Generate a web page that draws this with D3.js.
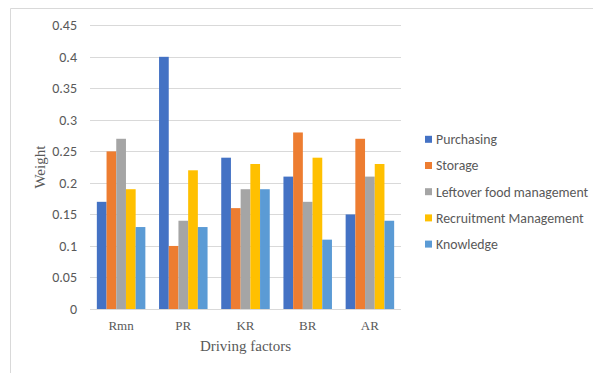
<!DOCTYPE html>
<html>
<head>
<meta charset="utf-8">
<script src="https://cdn.jsdelivr.net/npm/d3@7"></script>
<style>
  body { margin: 0; background: #fff; }
  svg { display: block; }
</style>
</head>
<body>
<div id="chart"></div>
<script>
const categories = ['Rmn', 'PR', 'KR', 'BR', 'AR'];
const seriesNames = ['Purchasing', 'Storage', 'Leftover food management', 'Recruitment Management', 'Knowledge'];
const purchasing = [0.17, 0.40, 0.24, 0.21, 0.15];
const storage = [0.25, 0.10, 0.16, 0.28, 0.27];
const leftover = [0.27, 0.14, 0.19, 0.17, 0.21];
const recruitment = [0.19, 0.22, 0.23, 0.24, 0.23];
const knowledge = [0.13, 0.13, 0.19, 0.11, 0.14];
const yTicks = [0, 0.05, 0.1, 0.15, 0.2, 0.25, 0.3, 0.35, 0.4, 0.45];
const colors = ['#4472C4', '#ED7D31', '#A5A5A5', '#FFC000', '#5B9BD5'];

const series = [purchasing, storage, leftover, recruitment, knowledge];
const width = 593, height = 373;
const plot = { left: 90, right: 401, top: 25.3, bottom: 309 };

const svg = d3.select('#chart').append('svg')
  .attr('width', width)
  .attr('height', height);

// chart frame (only top and left edges show in the picture)
svg.append('line').attr('x1', 10.5).attr('x2', width).attr('y1', 8.5).attr('y2', 8.5)
  .attr('stroke', '#d9d9d9');
svg.append('line').attr('x1', 10.5).attr('x2', 10.5).attr('y1', 8.5).attr('y2', height)
  .attr('stroke', '#d9d9d9');

const x0 = d3.scaleBand()
  .domain(categories)
  .range([plot.left, plot.right])
  .paddingInner(0)
  .paddingOuter(0);

const groupWidth = x0.bandwidth() * 0.78;
const x1 = d3.scaleBand()
  .domain(d3.range(series.length))
  .range([0, groupWidth]);

const y = d3.scaleLinear()
  .domain([0, 0.45])
  .range([plot.bottom, plot.top]);

// gridlines
svg.append('g')
  .selectAll('line')
  .data(yTicks)
  .join('line')
  .attr('x1', plot.left)
  .attr('x2', plot.right)
  .attr('y1', d => Math.round(y(d)) + 0.5)
  .attr('y2', d => Math.round(y(d)) + 0.5)
  .attr('stroke', '#d9d9d9')
  .attr('stroke-width', 1);

// y tick labels
svg.append('g')
  .selectAll('text')
  .data(yTicks)
  .join('text')
  .attr('x', 77)
  .attr('y', d => y(d))
  .attr('dy', '0.35em')
  .attr('text-anchor', 'end')
  .attr('font-family', 'Carlito, "Liberation Sans", sans-serif')
  .attr('font-size', 14)
  .attr('fill', '#595959')
  .text(d => d);

// bars
const groups = svg.append('g')
  .selectAll('g')
  .data(categories)
  .join('g')
  .attr('transform', d => `translate(${x0(d) + (x0.bandwidth() - groupWidth) / 2},0)`);

groups.selectAll('rect')
  .data((c, ci) => series.map((s, si) => ({ si, v: s[ci] })))
  .join('rect')
  .attr('x', d => x1(d.si))
  .attr('width', x1.bandwidth())
  .attr('y', d => y(d.v))
  .attr('height', d => y(0) - y(d.v))
  .attr('fill', d => colors[d.si]);

// x labels
svg.append('g')
  .selectAll('text')
  .data(categories)
  .join('text')
  .attr('x', d => x0(d) + x0.bandwidth() / 2)
  .attr('y', 330)
  .attr('text-anchor', 'middle')
  .attr('font-family', '"Liberation Serif", "Times New Roman", serif')
  .attr('font-size', 13)
  .attr('fill', '#595959')
  .text(d => d);

// axis titles
svg.append('text')
  .attr('x', (plot.left + plot.right) / 2)
  .attr('y', 351)
  .attr('text-anchor', 'middle')
  .attr('font-family', '"Liberation Serif", "Times New Roman", serif')
  .attr('font-size', 15)
  .attr('fill', '#595959')
  .text('Driving factors');

svg.append('text')
  .attr('transform', `translate(45,${(plot.top + plot.bottom) / 2}) rotate(-90)`)
  .attr('text-anchor', 'middle')
  .attr('font-family', '"Liberation Serif", "Times New Roman", serif')
  .attr('font-size', 15)
  .attr('fill', '#595959')
  .text('Weight');

// legend
const legend = svg.append('g')
  .selectAll('g')
  .data(seriesNames)
  .join('g')
  .attr('transform', (d, i) => `translate(425,${139.3 + i * 26.2})`);

legend.append('rect')
  .attr('x', 0)
  .attr('y', -3.5)
  .attr('width', 7)
  .attr('height', 7)
  .attr('fill', (d, i) => colors[i]);

legend.append('text')
  .attr('x', 11)
  .attr('dy', '0.35em')
  .attr('font-family', 'Carlito, "Liberation Sans", sans-serif')
  .attr('font-size', 13.8)
  .attr('fill', '#595959')
  .text(d => d);
</script>
</body>
</html>
